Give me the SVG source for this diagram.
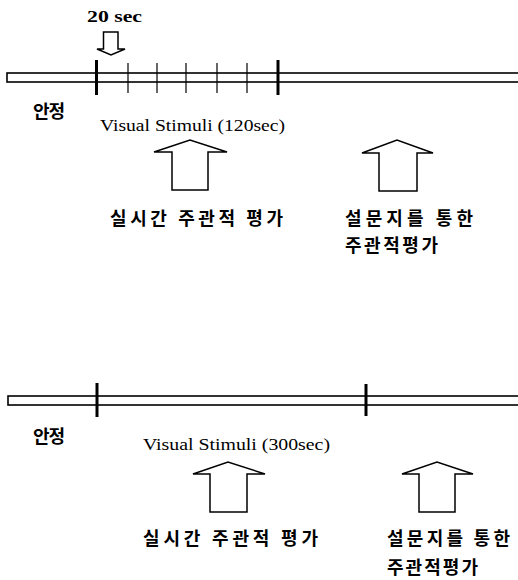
<svg xmlns="http://www.w3.org/2000/svg" width="518" height="580" viewBox="0 0 518 580">
<style>
.bar{fill:#fff;stroke:#000;stroke-width:1.6}
.thick{stroke:#000;stroke-width:3}
.thin{stroke:#000;stroke-width:1.2}
.arrow{fill:#fff;stroke:#000;stroke-width:1.5;stroke-linejoin:miter}
.en{font-family:"Liberation Serif","DejaVu Serif",serif;font-size:16px;fill:#000}
.ko{font-family:"Noto Sans CJK KR","Noto Sans",sans-serif;font-size:18px;font-weight:bold;fill:#000}
</style>
<rect width="518" height="580" fill="#fff"/>
<g id="timeline-120">
<rect class="bar" x="7" y="73" width="520" height="9"/>
<line class="thick" x1="96.5" y1="60" x2="96.5" y2="95"/>
<line class="thick" x1="278" y1="60" x2="278" y2="95"/>
<line class="thin" x1="128" y1="63" x2="128" y2="93"/>
<line class="thin" x1="157" y1="63" x2="157" y2="93"/>
<line class="thin" x1="186" y1="63" x2="186" y2="93"/>
<line class="thin" x1="217" y1="63" x2="217" y2="93"/>
<line class="thin" x1="247" y1="63" x2="247" y2="93"/>
</g>
<g id="interval-label">
<text class="en" x="87" y="22" font-weight="bold" textLength="55" lengthAdjust="spacingAndGlyphs">20 sec</text>
<polygon class="arrow" points="103.5,32 118,32 118,49 125,49 111,55 97,49 103.5,49"/>
</g>
<g id="rest-1"><text class="ko" x="33" y="118" font-size="16" textLength="32" lengthAdjust="spacing">안정</text></g>
<g id="stimuli-120"><text class="en" x="100" y="131" textLength="185" lengthAdjust="spacingAndGlyphs">Visual Stimuli (120sec)</text></g>
<g id="realtime-1">
<polygon class="arrow" points="172,190 208,190 208,152 227,152 190,140 154,152 172,152"/>
<text class="ko" x="110" y="225" textLength="173" lengthAdjust="spacing">실시간 주관적 평가</text>
</g>
<g id="survey-1">
<polygon class="arrow" points="379,191 417,191 417,153 433,153 397,140 362,153 379,153"/>
<text class="ko" x="345" y="225" textLength="128" lengthAdjust="spacing">설문지를 통한</text>
<text class="ko" x="345" y="252" textLength="93" lengthAdjust="spacing">주관적평가</text>
</g>
<g id="timeline-300">
<rect class="bar" x="8" y="396" width="520" height="9"/>
<line class="thick" x1="97" y1="383" x2="97" y2="417"/>
<line class="thick" x1="366" y1="384" x2="366" y2="416"/>
</g>
<g id="rest-2"><text class="ko" x="33" y="443" font-size="16" textLength="32" lengthAdjust="spacing">안정</text></g>
<g id="stimuli-300"><text class="en" x="143" y="450" textLength="187" lengthAdjust="spacingAndGlyphs">Visual Stimuli (300sec)</text></g>
<g id="realtime-2">
<polygon class="arrow" points="210,512 247,512 247,474 265,474 228,462 193,474 210,474"/>
<text class="ko" x="143" y="545" textLength="175" lengthAdjust="spacing">실시간 주관적 평가</text>
</g>
<g id="survey-2">
<polygon class="arrow" points="419,512 455,512 455,474 473,474 437,462 402,474 419,474"/>
<text class="ko" x="387" y="545" textLength="123" lengthAdjust="spacing">설문지를 통한</text>
<text class="ko" x="387" y="574" textLength="91" lengthAdjust="spacing">주관적평가</text>
</g>
</svg>
